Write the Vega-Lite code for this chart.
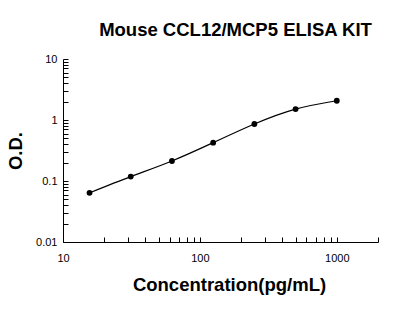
{
  "$schema": "https://vega.github.io/schema/vega-lite/v6.json",
  "autosize": "none",
  "width": 315,
  "height": 183,
  "padding": {"top": 59, "left": 63, "right": 20, "bottom": 81},
  "background": "white",
  "config": {
    "font": "Liberation Sans",
    "view": {"stroke": null},
    "axis": {
      "grid": false,
      "domainColor": "black",
      "domainWidth": 1,
      "tickColor": "black",
      "tickWidth": 1,
      "tickSize": -5,
      "labelColor": "black",
      "labelFont": "Liberation Sans",
      "labelFontSize": 11,
      "titleColor": "black",
      "titleFont": "Liberation Sans",
      "titleFontSize": 18.5,
      "titleFontWeight": "bold"
    }
  },
  "title": {
    "text": "Mouse CCL12/MCP5 ELISA KIT",
    "font": "Liberation Sans",
    "fontSize": 18.5,
    "fontWeight": "bold",
    "color": "black",
    "anchor": "middle",
    "dx": 15,
    "offset": 14
  },
  "data": {
    "values": [
      {"conc": 15.625, "od": 0.064},
      {"conc": 31.25, "od": 0.118},
      {"conc": 62.5, "od": 0.213},
      {"conc": 125, "od": 0.425},
      {"conc": 250, "od": 0.86},
      {"conc": 500, "od": 1.51},
      {"conc": 1000, "od": 2.07}
    ]
  },
  "encoding": {
    "x": {
      "field": "conc",
      "type": "quantitative",
      "title": "Concentration(pg/mL)",
      "scale": {"type": "log", "domain": [10, 2000], "nice": false},
      "axis": {
        "values": [10, 20, 30, 40, 50, 60, 70, 80, 90, 100, 200, 300, 400, 500, 600, 700, 800, 900, 1000, 2000],
        "labelExpr": "indexof(['10','100','1000'], datum.label) >= 0 ? datum.label : ''",
        "format": "d",
        "labelPadding": 15,
        "labelFlush": false,
        "labelOverlap": false,
        "titlePadding": 12,
        "titleX": 166
      }
    },
    "y": {
      "field": "od",
      "type": "quantitative",
      "title": "O.D.",
      "scale": {"type": "log", "domain": [0.01, 10], "nice": false},
      "axis": {
        "values": [0.01, 0.02, 0.03, 0.04, 0.05, 0.06, 0.07, 0.08, 0.09, 0.1, 0.2, 0.3, 0.4, 0.5, 0.6, 0.7, 0.8, 0.9, 1, 2, 3, 4, 5, 6, 7, 8, 9, 10],
        "labelExpr": "indexof(['0.01','0.1','1','10'], datum.label) >= 0 ? datum.label : ''",
        "format": "~g",
        "labelPadding": 11,
        "labelFlush": false,
        "labelOverlap": false,
        "titlePadding": 10
      }
    }
  },
  "layer": [
    {
      "mark": {"type": "line", "color": "black", "strokeWidth": 1.2, "interpolate": "natural"}
    },
    {
      "mark": {"type": "circle", "color": "black", "opacity": 1, "size": 34}
    }
  ]
}
